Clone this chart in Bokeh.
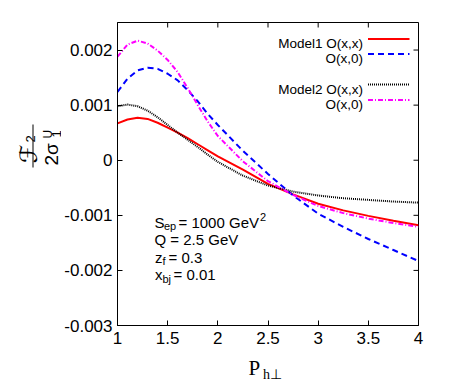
import math
from bokeh.plotting import figure
from bokeh.layouts import row, column
from bokeh.models import (Label, FixedTicker, Arrow, BoxAnnotation, Range1d)
from bokeh.embed import file_html
from bokeh.resources import INLINE

# ---- data ----
p_perp = [1.0, 1.1, 1.2, 1.3, 1.4, 1.5, 1.6, 1.7, 1.8, 1.9, 2.0,
          2.25, 2.5, 2.75, 3.0, 3.25, 3.5, 3.75, 4.0]
model1_xx = [0.00067, 0.00074, 0.00077, 0.00075, 0.00068, 0.00059, 0.00050,
             0.00040, 0.00029, 0.00018, 0.00007,
             -0.00017, -0.00043, -0.00062, -0.00079, -0.00091, -0.00101, -0.00110, -0.00118]
model1_x0 = [0.00124, 0.00148, 0.00163, 0.00168, 0.00166, 0.00157, 0.00145,
             0.00127, 0.00107, 0.00084, 0.00064,
             0.00017, -0.00025, -0.00064, -0.00097, -0.00121, -0.00143, -0.00163, -0.00183]
model2_xx = [0.00098, 0.00101, 0.00098, 0.00090, 0.00078, 0.00064, 0.00050,
             0.00037, 0.00024, 0.00010, -0.00003,
             -0.00028, -0.00046, -0.00057, -0.00064, -0.00069, -0.00072, -0.00075, -0.00077]
model2_x0 = [0.00188, 0.00210, 0.00217, 0.00212, 0.00199, 0.00182, 0.00160,
             0.00131, 0.00100, 0.00070, 0.00044,
             -0.00002, -0.00038, -0.00063, -0.00083, -0.00096, -0.00106, -0.00114, -0.00121]

x_range_lim = [1, 4]
y_range_lim = [-0.003, 0.0025]
x_ticks = [1, 1.5, 2, 2.5, 3, 3.5, 4]
x_tick_labels = ["1", "1.5", "2", "2.5", "3", "3.5", "4"]
y_ticks = [-0.003, -0.002, -0.001, 0, 0.001, 0.002]
y_tick_labels = ["-0.003", "-0.002", "-0.001", "0", "0.001", "0.002"]

legend_labels = ["Model1 O(x,x)", "O(x,0)", "Model2 O(x,x)", "O(x,0)"]

SANS = "Liberation Sans"
SERIF = "Liberation Serif"

series_styles = [
    dict(line_color="#ff0000", line_width=2),
    dict(line_color="#0000ff", line_width=2, line_dash="6 4"),
    dict(line_color="black", line_width=2, line_dash="1 1"),
    dict(line_color="#ff00ff", line_width=2, line_dash="5 2 1 2"),
]

# ---------------- main plot ----------------
p = figure(width=389, height=353,
           x_range=Range1d(*x_range_lim), y_range=Range1d(*y_range_lim),
           output_backend="svg", toolbar_location=None,
           min_border_left=54, min_border_right=32,
           min_border_top=22, min_border_bottom=28)
p.grid.visible = False
p.outline_line_color = "black"
p.outline_line_width = 1
p.background_fill_color = "white"
p.border_fill_color = "white"

p.xaxis.ticker = FixedTicker(ticks=x_ticks)
p.xaxis.major_label_overrides = {t: l for t, l in zip(x_ticks, x_tick_labels)}
p.yaxis.ticker = FixedTicker(ticks=y_ticks)
p.yaxis.major_label_overrides = {t: l for t, l in zip(y_ticks, y_tick_labels)}

for ax in [p.xaxis[0], p.yaxis[0]]:
    ax.major_tick_in = 5
    ax.major_tick_out = 0
    ax.minor_tick_in = 0
    ax.minor_tick_out = 0
    ax.axis_line_color = "black"
    ax.major_tick_line_color = "black"
    ax.major_label_text_font = SANS
    ax.major_label_text_font_size = "17px"
    ax.major_label_text_color = "black"
p.xaxis.major_label_standoff = 6
p.yaxis.major_label_standoff = 5

# inward ticks on the top and right edges (mirrors of the axis ticks)
p.ray(x=x_ticks, y=[y_range_lim[1]] * len(x_ticks), length=5, length_units="screen",
      angle=-math.pi / 2, line_color="black", line_width=1)
p.ray(x=[x_range_lim[1]] * len(y_ticks), y=y_ticks, length=5, length_units="screen",
      angle=math.pi, line_color="black", line_width=1)

for ys, st in zip([model1_xx, model1_x0, model2_xx, model2_x0], series_styles):
    p.line(p_perp, ys, **st)

# gnuplot-style key: text right-aligned, sample line to its right (screen px in frame)
key_line_y = [286.5, 271.5, 241, 225.5]
for txt, ly, st in zip(legend_labels, key_line_y, series_styles):
    p.add_layout(Label(x=245.5, y=ly - 4.5, x_units="screen", y_units="screen", text=txt,
                       text_align="right", text_baseline="alphabetic",
                       text_font=SANS, text_font_size="13.5px", text_color="black"))
    p.add_layout(Arrow(end=None, start=None, x_start=250.5, y_start=ly, x_end=292, y_end=ly,
                       start_units="screen", end_units="screen", **st))

def lab(fig, x, y, t, size="15px", font=SANS, angle=0.0):
    fig.add_layout(Label(x=x, y=y, x_units="screen", y_units="screen", text=t,
                         text_align="left", text_baseline="alphabetic", angle=angle,
                         text_font=font, text_font_size=size, text_color="black"))

# annotation block
lab(p, 37, 103.3, "S")
lab(p, 46.5, 99.5, "ep", "11px")
lab(p, 61, 103.3, "= 1000 GeV")
lab(p, 142.5, 109, "2", "11px")
lab(p, 37, 85.7, "Q = 2.5 GeV")
lab(p, 37.5, 68.3, "z")
lab(p, 45, 65, "f", "11px")
lab(p, 51, 68.3, "= 0.3")
lab(p, 37.5, 50.7, "x")
lab(p, 45, 47, "bj", "11px")
lab(p, 56, 50.7, "= 0.01")

# ---------------- y-axis label panel ----------------
ylab = figure(width=61, height=353, output_backend="svg", toolbar_location=None,
              x_axis_location=None, y_axis_location=None, min_border=0,
              outline_line_color=None)
ylab.grid.visible = False
A = math.pi / 2
lab(ylab, 28, 162, "ℱ", "24px", "DejaVu Sans", A)
lab(ylab, 30, 183, "2", "13px", SANS, A)
lab(ylab, 51, 160, "2σ", "19px", SANS, A)
lab(ylab, 56, 188, "1", "13px", SANS, A)
lab(ylab, 47, 187, "U", "12px", SANS, A)
ylab.add_layout(BoxAnnotation(left=32, right=33, bottom=158, top=201,
                              left_units="screen", right_units="screen",
                              bottom_units="screen", top_units="screen",
                              fill_color="black", fill_alpha=1, line_color=None))

# ---------------- x-axis label panel ----------------
xlab = figure(width=450, height=29, output_backend="svg", toolbar_location=None,
              x_axis_location=None, y_axis_location=None, min_border=0,
              outline_line_color=None)
xlab.grid.visible = False
lab(xlab, 248, 15, "P", "21px", SERIF)
lab(xlab, 262.5, 8, "h⊥", "14px", SERIF)

layout = column(row(ylab, p, spacing=0), xlab, spacing=0)
open("out.html", "w").write(file_html(layout, INLINE))
